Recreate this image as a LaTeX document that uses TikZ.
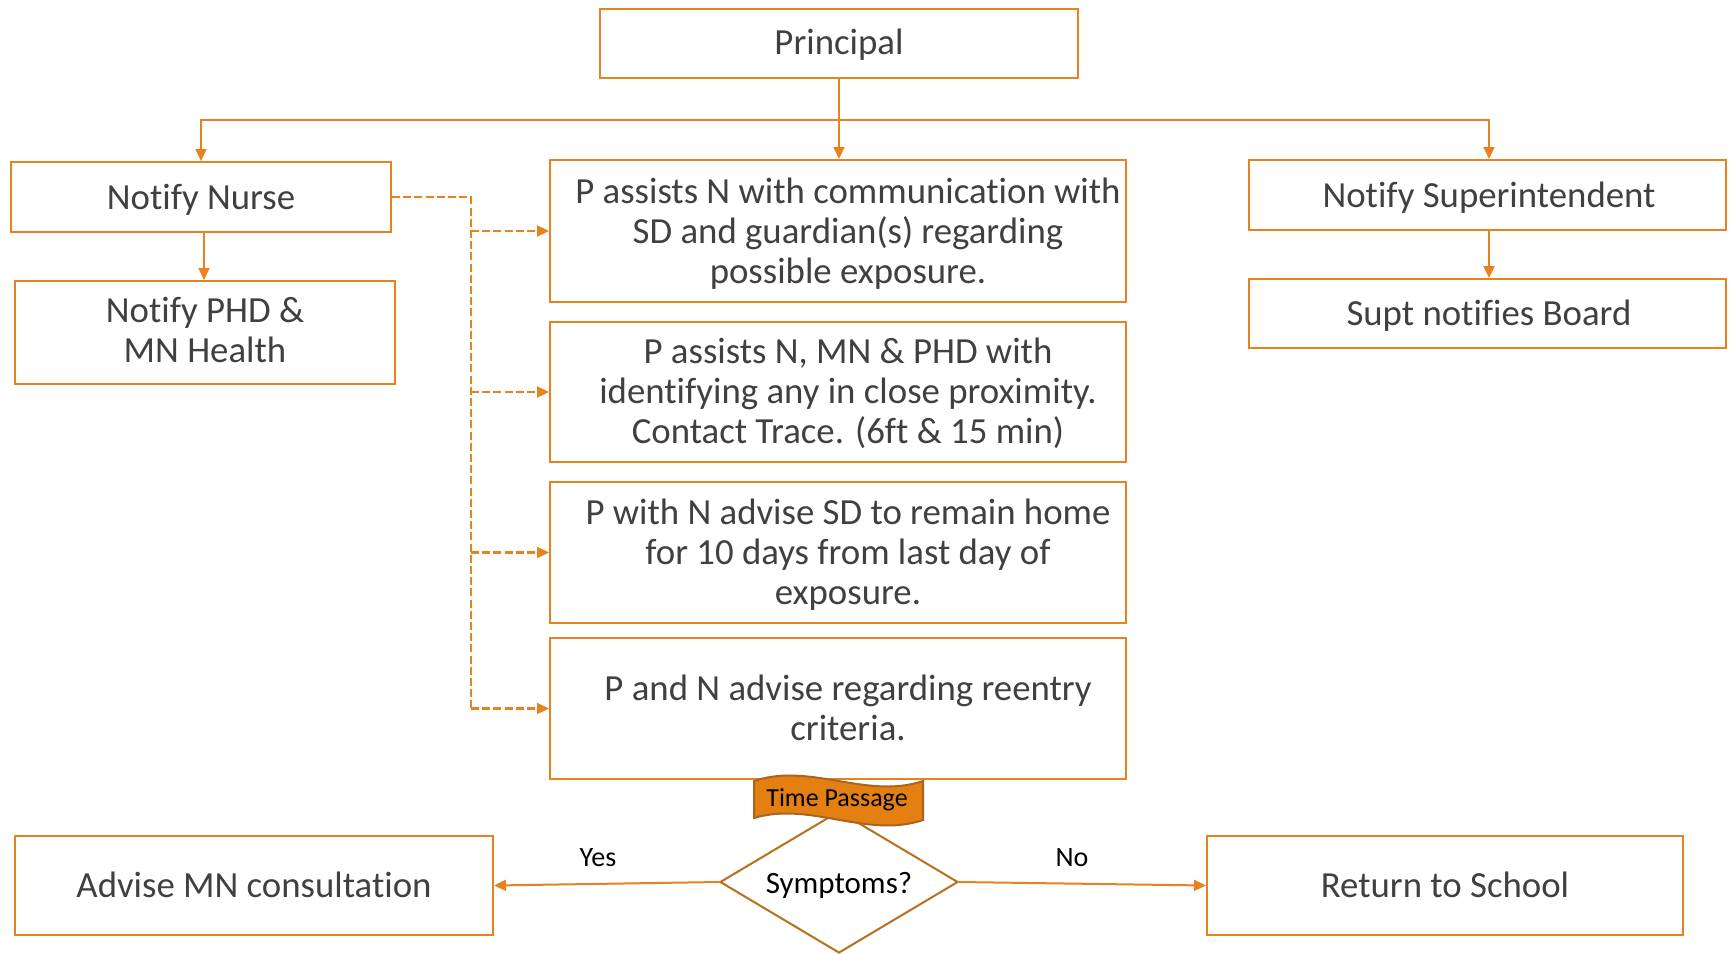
\documentclass[tikz,border=0pt]{standalone}
\usepackage{fontspec}
\setmainfont{Carlito}[Ligatures={NoCommon}]
\usetikzlibrary{arrows.meta,shapes.geometric}
\definecolor{org}{RGB}{232,130,30}
\definecolor{txtc}{RGB}{64,64,64}
\definecolor{wavefill}{RGB}{228,128,18}
\definecolor{wavedraw}{RGB}{170,100,30}
\definecolor{diadraw}{RGB}{185,112,30}
\begin{document}
\begin{tikzpicture}[x=0.5pt,y=-0.5pt,
  box/.style={draw=org, line width=1pt, inner sep=0pt},
  txt/.style={text=txtc, font=\fontsize{18.4}{20}\selectfont, align=center, inner sep=0pt, yshift=-1.5pt},
  lbl/.style={text=black, font=\fontsize{14}{16}\selectfont, inner sep=0pt},
  conn/.style={draw=org, line width=1pt, -{Triangle[length=6pt,width=5.5pt]}},
  dline/.style={draw=org, line width=1.1pt, dash pattern=on 4pt off 1.6pt},
  dconn/.style={dline, -{Triangle[length=6pt,width=5.5pt]}}]
\path[use as bounding box] (0,0) rectangle (1733,953);
% boxes
\node[box, minimum width=239pt, minimum height=34.5pt] (princ) at (839,43.5) {};
\node[txt] (princt) at (839,41.5) {Principal};
\node[box, minimum width=190pt, minimum height=35pt] (nurse) at (201,197) {};
\node[txt] (nurset) at (201,197) {Notify Nurse};
\node[box, minimum width=190pt, minimum height=51.5pt] (phd) at (205,332.5) {};
\node[txt] (phdt) at (205,327) {Notify PHD \&\\MN Health};
\node[box, minimum width=288pt, minimum height=71pt] (b1) at (838,231) {};
\node[txt] (b1t) at (848,231) {P assists N with communication with\\SD and guardian(s) regarding\\possible exposure.};
\node[box, minimum width=288pt, minimum height=70pt] (b2) at (838,392) {};
\node[txt] (b2t) at (848,390) {P assists N, MN \& PHD with\\identifying any in close proximity.\\Contact Trace. (6ft \& 15 min)};
\node[box, minimum width=288pt, minimum height=70.5pt] (b3) at (838,552.5) {};
\node[txt] (b3t) at (848,552) {P with N advise SD to remain home\\for 10 days from last day of\\exposure.};
\node[box, minimum width=288pt, minimum height=70.5pt] (b4) at (838,708.5) {};
\node[txt] (b4t) at (848,705) {P and N advise regarding reentry\\criteria.};
\node[box, minimum width=238.5pt, minimum height=35pt] (supt) at (1487.5,195) {};
\node[txt] (suptt) at (1489,195) {Notify Superintendent};
\node[box, minimum width=238.5pt, minimum height=34.5pt] (board) at (1487.5,313.5) {};
\node[txt] (boardt) at (1489,313) {Supt notifies Board};
\node[box, minimum width=239pt, minimum height=49.5pt] (advise) at (254,885.5) {};
\node[txt] (adviset) at (254,882) {Advise MN consultation};
\node[box, minimum width=238pt, minimum height=49.5pt] (ret) at (1445,885.5) {};
\node[txt] (rett) at (1445,882) {Return to School};
% tree connectors
\coordinate (hub) at (839,120);
\draw[conn] (princ.south) -- (b1.north -| princ.south);
\draw[conn] (hub) -| (nurse.north);
\draw[conn] (hub) -| (supt.north -| 1489,0);
\draw[conn] (nurse.south -| 204,0) -- (phd.north -| 204,0);
\draw[conn] (supt.south -| 1489,0) -- (board.north -| 1489,0);
% dashed connectors
\coordinate (tr) at (471,197);
\draw[dline] (nurse.east) -- (tr) -- (tr |- b4.west);
\draw[dconn] (tr |- b1.west) -- (b1.west);
\draw[dconn] (tr |- b2.west) -- (b2.west);
\draw[dconn] (tr |- b3.west) -- (b3.west);
\draw[dconn] (tr |- b4.west) -- (b4.west);
% decision
\node[diamond, draw=diadraw, fill=white, line width=1pt, aspect=1.68, minimum width=119pt, minimum height=71pt, inner sep=0pt] (sym) at (839,882) {};
\node[text=black, font=\fontsize{15.5}{18}\selectfont, inner sep=0pt] (symt) at (839,885) {Symptoms?};
\draw[fill=wavefill, draw=wavedraw, line width=1pt] (754,781) .. controls (810,762) and (867,800) .. (923,781) -- (923,820) .. controls (867,839) and (810,801) .. (754,818) -- cycle;
\node[text=black, font=\fontsize{13}{15}\selectfont, inner sep=0pt] (tp) at (837,800) {Time Passage};
\draw[conn] (sym.west) -- (advise.east);
\draw[conn] (sym.east) -- (ret.west);
\node[lbl] (yes) at (598,858) {Yes};
\node[lbl] (no) at (1072,858) {No};
\end{tikzpicture}
\end{document}
